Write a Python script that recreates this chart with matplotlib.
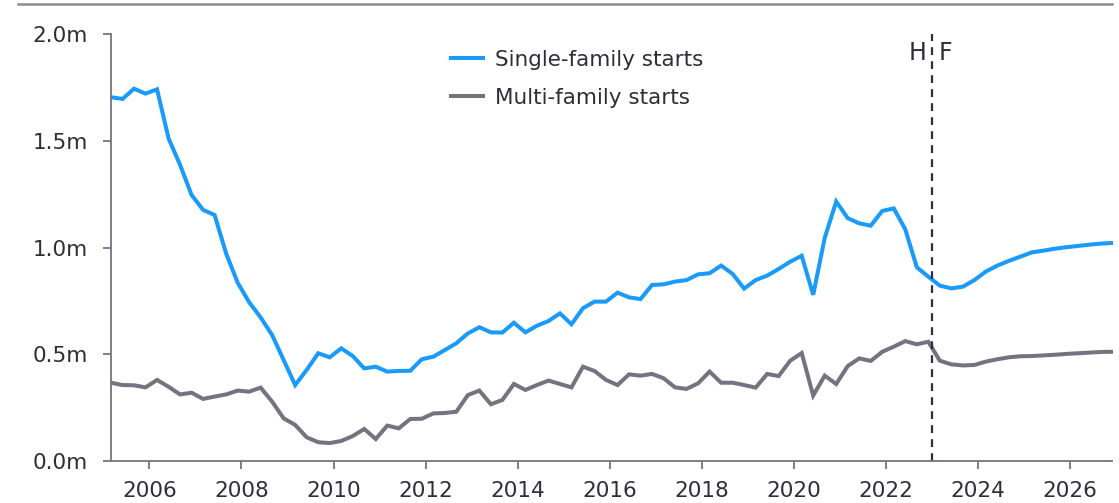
import matplotlib
matplotlib.use("Agg")
import matplotlib.pyplot as plt
from matplotlib.lines import Line2D
import numpy as np

# Quarterly data 2005Q1 .. 2026Q4 (millions of units, SAAR)
start_year = 2005
n_quarters = 88
single_family = [
    1.705, 1.697, 1.745, 1.722, 1.742, 1.512, 1.388, 1.247, 1.177, 1.153,
    0.973, 0.836, 0.744, 0.673, 0.590, 0.473, 0.356, 0.427, 0.505, 0.486,
    0.528, 0.492, 0.434, 0.442, 0.419, 0.422, 0.423, 0.477, 0.489, 0.520,
    0.552, 0.598, 0.627, 0.603, 0.602, 0.648, 0.603, 0.634, 0.656, 0.692,
    0.641, 0.716, 0.747, 0.747, 0.789, 0.767, 0.759, 0.825, 0.828, 0.841,
    0.848, 0.875, 0.880, 0.916, 0.877, 0.808, 0.848, 0.869, 0.900, 0.934,
    0.962, 0.779, 1.046, 1.216, 1.138, 1.114, 1.103, 1.172, 1.184, 1.086,
    0.908, 0.864, 0.822, 0.809, 0.817, 0.848, 0.888, 0.916, 0.938, 0.958,
    0.978, 0.986, 0.995, 1.002, 1.008, 1.014, 1.019, 1.022,
]
multi_family = [
    0.367, 0.356, 0.355, 0.345, 0.380, 0.348, 0.312, 0.320, 0.291, 0.302,
    0.312, 0.330, 0.325, 0.344, 0.278, 0.200, 0.169, 0.111, 0.088, 0.084,
    0.094, 0.117, 0.150, 0.103, 0.166, 0.153, 0.197, 0.198, 0.223, 0.225,
    0.231, 0.309, 0.330, 0.266, 0.286, 0.361, 0.333, 0.356, 0.377, 0.361,
    0.345, 0.442, 0.422, 0.380, 0.356, 0.406, 0.400, 0.408, 0.388, 0.345,
    0.338, 0.364, 0.419, 0.367, 0.367, 0.356, 0.344, 0.408, 0.398, 0.470,
    0.506, 0.307, 0.400, 0.361, 0.445, 0.481, 0.469, 0.512, 0.536, 0.562,
    0.547, 0.559, 0.470, 0.453, 0.448, 0.450, 0.466, 0.477, 0.486, 0.491,
    0.492, 0.495, 0.498, 0.502, 0.505, 0.508, 0.511, 0.512,
]
series_labels = ["Single-family starts", "Multi-family starts"]
year_ticks = [2006, 2008, 2010, 2012, 2014, 2016, 2018, 2020, 2022, 2024, 2026]
y_ticks = [0.0, 0.5, 1.0, 1.5, 2.0]
y_tick_labels = ["0.0m", "0.5m", "1.0m", "1.5m", "2.0m"]
forecast_start = 2023.0

# x position: last month of each quarter (first day), as decimal year
x = np.array([start_year + (3 * (i % 4) + 2) / 12 + i // 4 for i in range(n_quarters)])

BLUE = "#1A9AFA"
GRAY = "#747480"
TEXT = "#2E2E38"
SPINE = "#747480"

plt.rcParams["font.family"] = ["DejaVu Sans"]

fig = plt.figure(figsize=(11.19, 5.03), dpi=100)
ax = fig.add_axes([111 / 1119, 1 - 461 / 503, (1112.5 - 111) / 1119, (461 - 34.3) / 503])

ax.plot(x, single_family, color=BLUE, lw=2.9, solid_joinstyle="miter", label=series_labels[0])
ax.plot(x, multi_family, color=GRAY, lw=2.9, solid_joinstyle="miter", label=series_labels[1])

ax.set_xlim(x[0], x[-1])
ax.set_ylim(0, 2.0)
ax.set_xticks(year_ticks)
ax.set_xticklabels([str(y) for y in year_ticks])
ax.set_yticks(y_ticks)
ax.set_yticklabels(y_tick_labels)

for s in ["top", "right"]:
    ax.spines[s].set_visible(False)
for s in ["left", "bottom"]:
    ax.spines[s].set_color(SPINE)
    ax.spines[s].set_linewidth(1.3)

ax.tick_params(axis="both", colors=SPINE, length=5.5, width=1.3, labelsize=15.5,
               labelcolor=TEXT)
ax.tick_params(axis="x", pad=9)
ax.tick_params(axis="y", pad=11)

# Forecast divider
ax.axvline(forecast_start, color=TEXT, lw=1.6, ls=(0, (3.5, 2.8)), ymin=0, ymax=1)
ax.text(forecast_start - 0.12, 1.913, "H", ha="right", va="center", fontsize=17,
        color=TEXT)
ax.text(forecast_start + 0.14, 1.913, "F", ha="left", va="center", fontsize=17,
        color=TEXT)

leg = ax.legend(loc="upper left", bbox_to_anchor=(0.3395, 0.964), frameon=False,
                fontsize=15.5, handlelength=1.5, handletextpad=0.55, labelspacing=0.85,
                borderpad=0, borderaxespad=0)
for t in leg.get_texts():
    t.set_color(TEXT)

# top rule
fig.add_artist(Line2D([18 / 1119, 1112 / 1119], [1 - 4.3 / 503, 1 - 4.3 / 503],
                      color="#8A8A92", lw=1.8, transform=fig.transFigure))

fig.savefig("out.png", dpi=100)
